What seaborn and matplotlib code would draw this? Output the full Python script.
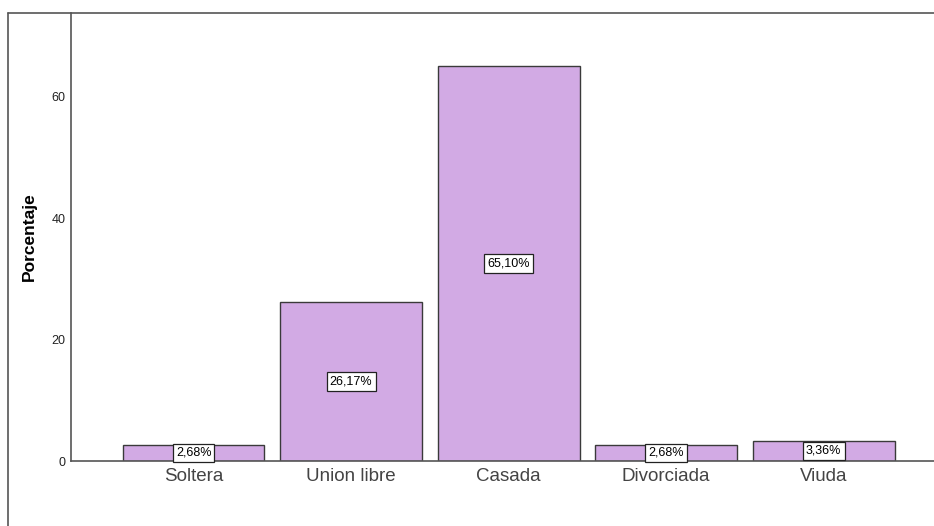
import matplotlib
matplotlib.use("Agg")
import matplotlib.pyplot as plt
import seaborn as sns
import pandas as pd
from matplotlib.lines import Line2D

# estado civil - porcentajes
categorias = ["Soltera", "Union libre", "Casada", "Divorciada", "Viuda"]
porcentajes = [2.68, 26.17, 65.10, 2.68, 3.36]
etiquetas = ["2,68%", "26,17%", "65,10%", "2,68%", "3,36%"]

df = pd.DataFrame({"Estado": categorias, "Porcentaje": porcentajes})

sns.set_style("white")
plt.rcParams["font.family"] = ["Liberation Sans", "DejaVu Sans"]

fig = plt.figure(figsize=(9.34, 5.26), dpi=100)
ax = fig.add_axes([71 / 934, 65 / 526, 863 / 934, 448 / 526])

sns.barplot(data=df, x="Estado", y="Porcentaje", color="#D2AAE4",
            saturation=1, width=0.9, edgecolor="#3a3a3a", linewidth=1, ax=ax)

# etiquetas en el centro de cada barra
for i, (v, txt) in enumerate(zip(porcentajes, etiquetas)):
    ax.text(i, v / 2, txt, ha="center", va="center", fontsize=9, color="black",
            bbox=dict(boxstyle="square,pad=0.25", fc="white", ec="#222222", lw=0.9))

ax.set_xlim(-0.778, 4.70)
ax.set_ylim(0, 73.8)
ax.set_yticks([0, 20, 40, 60])
ax.tick_params(axis="y", length=0, labelsize=9, pad=4, labelcolor="#222222")
ax.tick_params(axis="x", length=0, labelsize=13.5, pad=5, labelcolor="#444444")
ax.set_xlabel("")
ax.set_ylabel("Porcentaje", fontsize=12.5, fontweight="bold", color="black")
ax.yaxis.set_label_coords(-0.039, 0.5)

sns.despine(ax=ax, top=True, right=True)
for s in ["left", "bottom"]:
    ax.spines[s].set_color("#555555")
    ax.spines[s].set_linewidth(1.2)

# marco exterior (se corta por la derecha y abajo)
fx = 7.5 / 934
fy = 1 - 13 / 526
fig.add_artist(Line2D([fx, fx], [0, fy], transform=fig.transFigure, color="#555555", lw=1.2))
fig.add_artist(Line2D([fx, 1], [fy, fy], transform=fig.transFigure, color="#555555", lw=1.2))

fig.savefig("out.png", dpi=100)
